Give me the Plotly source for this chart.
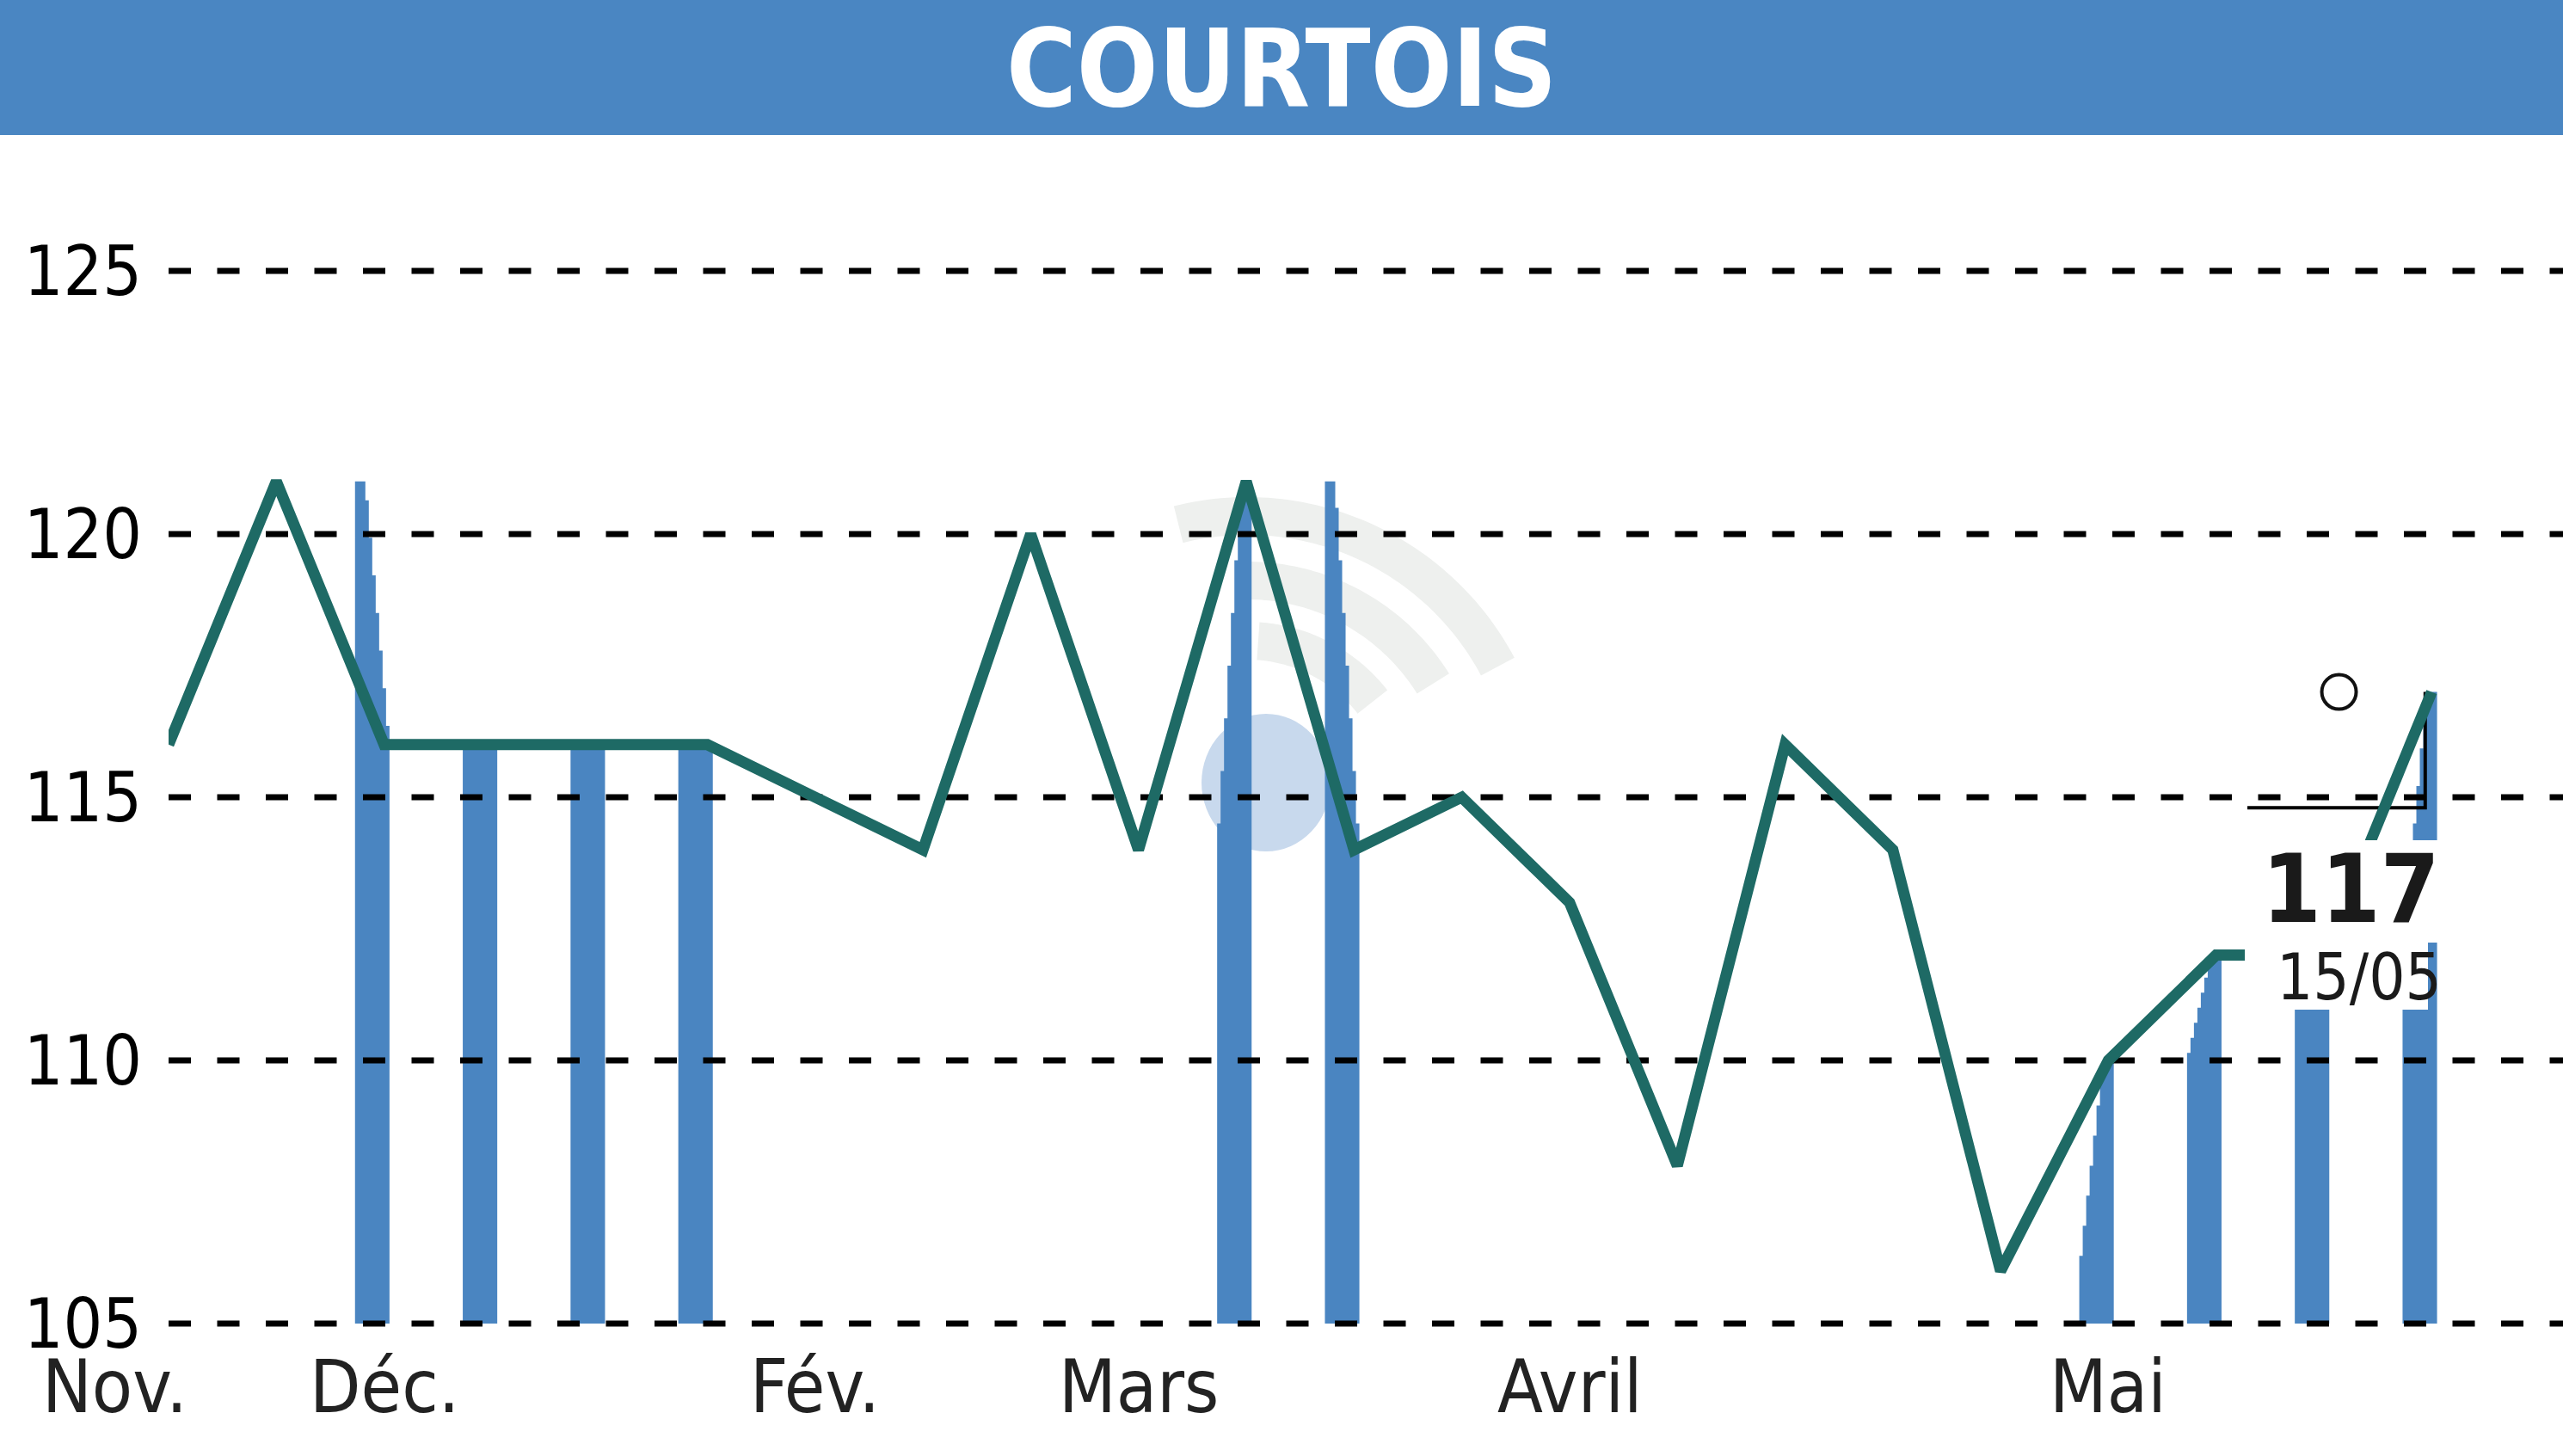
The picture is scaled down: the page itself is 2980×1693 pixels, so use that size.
import numpy as np
import plotly.graph_objects as go

# ---------------- data ----------------
title = "COURTOIS"
days = list(range(22))
prices = [116, 121, 116, 116, 116, 116, 115, 114, 120, 114, 121, 114,
          115, 113, 108, 116, 114, 106, 110, 112, 112, 117]
bar_days = [2, 3, 4, 5, 10, 11, 18, 19, 20, 21]
bar_from = [121, 116, 116, 116, 114, 121, 106, 110, 112, 112]
bar_to = [116, 116, 116, 116, 121, 114, 110, 112, 112, 117]
month_labels = ["Nov.", "Déc.", "Fév.", "Mars", "Avril", "Mai"]
month_pos = [-0.5, 2, 6, 9, 13, 18]
y_ticks = [105, 110, 115, 120, 125]
last_value = "117"
last_date = "15/05"

# ---------------- layout constants ----------------
W, H = 2980, 1693
ML, MT, MB = 196, 160, 133
PX_X = 125.3          # pixels per day step
PX_Y = 61.2           # pixels per price unit
plot_w = W - ML
plot_h = H - MT - MB
x_min = 0.0
x_max = plot_w / PX_X
y_min = 105 - (H - MB - 1539) / PX_Y
y_max = y_min + plot_h / PX_Y

BLUE = "#4a85c1"
TEAL = "#1e6a65"
FONT = "DejaVu Sans Condensed, Liberation Sans, sans-serif"


def px2x(px):
    return (px - ML) / PX_X


def px2y(py):
    return y_min + (H - MB - py) / PX_Y


fig = go.Figure()

# ---------------- bars (stair-topped) ----------------
bx, by = [], []
ncol = 10
for k, a, b in zip(bar_days, bar_from, bar_to):
    left, right = k - 0.27, k + 0.05
    edges = np.linspace(left, right, ncol + 1)
    pts_x = [left]
    pts_y = [105]
    for j in range(ncol):
        f = (j + 0.5) / ncol
        if b > a:
            t = min(max(f / 0.7, 0), 1)
        else:
            t = min(max((f - 0.3) / 0.7, 0), 1)
        top = a + (b - a) * t
        pts_x += [edges[j], edges[j + 1]]
        pts_y += [top, top]
    pts_x += [right]
    pts_y += [105]
    bx += pts_x + [None]
    by += pts_y + [None]

fig.add_trace(go.Scatter(x=bx, y=by, mode="lines", fill="toself",
                         fillcolor=BLUE, line=dict(width=0, color=BLUE),
                         hoverinfo="skip", showlegend=False))

# ---------------- dashed gridlines (above bars) ----------------
gx, gy = [], []
for v in y_ticks:
    gx += [x_min, x_max, None]
    gy += [v, v, None]
fig.add_trace(go.Scatter(x=gx, y=gy, mode="lines",
                         line=dict(color="black", width=7, dash="26px,30.5px"),
                         hoverinfo="skip", showlegend=False, cliponaxis=False))

# ---------------- last-value marker (L + circle) ----------------
lk = days[-1]
lv = prices[-1]
fig.add_trace(go.Scatter(x=[lk - 1.71, lk - 0.06, lk - 0.06],
                         y=[lv - 2.2, lv - 2.2, lv],
                         mode="lines", line=dict(color="black", width=4),
                         hoverinfo="skip", showlegend=False))
fig.add_trace(go.Scatter(x=[lk - 0.86], y=[lv], mode="markers",
                         marker=dict(symbol="circle-open", size=40, color="#111111",
                                     line=dict(color="#111111", width=4)),
                         hoverinfo="skip", showlegend=False))

# ---------------- price line ----------------
fig.add_trace(go.Scatter(x=days, y=prices, mode="lines",
                         line=dict(color=TEAL, width=13),
                         hoverinfo="skip", showlegend=False, cliponaxis=False))

shapes = []
# header band
shapes.append(dict(type="rect", xref="paper", yref="paper",
                   x0=-ML / plot_w, x1=1.0, y0=(H - MB - 157) / plot_h,
                   y1=(H - MB) / plot_h, fillcolor="#4a86c2",
                   line=dict(width=0), layer="above"))

# faint watermark (below everything)
cxp, cyp = 1450, 930


def ring_path(r_mid, thick, a0, a1):
    ang = np.linspace(np.radians(a0), np.radians(a1), 60)
    ro, ri = r_mid + thick / 2, r_mid - thick / 2
    outer = [(cxp + ro * np.cos(t), cyp - ro * np.sin(t)) for t in ang]
    inner = [(cxp + ri * np.cos(t), cyp - ri * np.sin(t)) for t in ang[::-1]]
    pts = outer + inner
    p = "M " + " L ".join(f"{px2x(x):.4f},{px2y(y):.4f}" for x, y in pts) + " Z"
    return p


for r_mid, a0, a1 in [(330, 28, 104), (255, 32, 92), (185, 38, 86)]:
    shapes.append(dict(type="path", xref="x", yref="y",
                       path=ring_path(r_mid, 44, a0, a1),
                       fillcolor="#eef0ee", line=dict(width=0), layer="below"))
shapes.append(dict(type="circle", xref="x", yref="y",
                   x0=px2x(1397), x1=px2x(1547), y0=px2y(990), y1=px2y(830),
                   fillcolor="#c8d9ed", line=dict(width=0), layer="below"))

# white boxes behind last value label
shapes.append(dict(type="rect", xref="x", yref="y",
                   x0=px2x(2610), x1=px2x(2842), y0=px2y(1096), y1=px2y(977),
                   fillcolor="white", line=dict(width=0), layer="above"))
shapes.append(dict(type="rect", xref="x", yref="y",
                   x0=px2x(2610), x1=px2x(2823), y0=px2y(1174), y1=px2y(1096),
                   fillcolor="white", line=dict(width=0), layer="above"))

annotations = []
annotations.append(dict(text=title, xref="paper", yref="paper",
                        x=(W / 2 - ML) / plot_w, y=(H - MB - 80) / plot_h,
                        xanchor="center", yanchor="middle", showarrow=False,
                        font=dict(family=FONT, size=124, color="white", weight="bold")))
for lab, pos in zip(month_labels, month_pos):
    annotations.append(dict(text=lab, xref="paper", yref="paper",
                            x=(pos - x_min) / (x_max - x_min),
                            y=(H - MB - 1612) / plot_h,
                            xanchor="center", yanchor="middle", showarrow=False,
                            font=dict(family=FONT, size=86, color="#222222")))
annotations.append(dict(text=last_value, xref="x", yref="y",
                        x=px2x(2733), y=px2y(1034), xanchor="center",
                        yanchor="middle", showarrow=False,
                        font=dict(family=FONT, size=110, color="#1a1a1a", weight="bold")))
annotations.append(dict(text=last_date, xref="x", yref="y",
                        x=px2x(2743), y=px2y(1136), xanchor="center",
                        yanchor="middle", showarrow=False,
                        font=dict(family=FONT, size=74, color="#1a1a1a")))

fig.update_layout(
    width=W, height=H,
    margin=dict(l=ML, r=0, t=MT, b=MB, pad=0),
    paper_bgcolor="white", plot_bgcolor="white",
    shapes=shapes, annotations=annotations,
    showlegend=False,
    xaxis=dict(range=[x_min, x_max], visible=False, showgrid=False, zeroline=False),
    yaxis=dict(range=[y_min, y_max], tickvals=y_ticks,
               ticktext=[str(v) for v in y_ticks], showgrid=False,
               zeroline=False, showline=False, ticks="",
               ticklabelstandoff=30,
               tickfont=dict(family=FONT, size=80, color="black")),
)

fig.write_html("out.html", config={"displayModeBar": False},
               post_script="document.body.style.margin='0';document.body.style.padding='0';")
